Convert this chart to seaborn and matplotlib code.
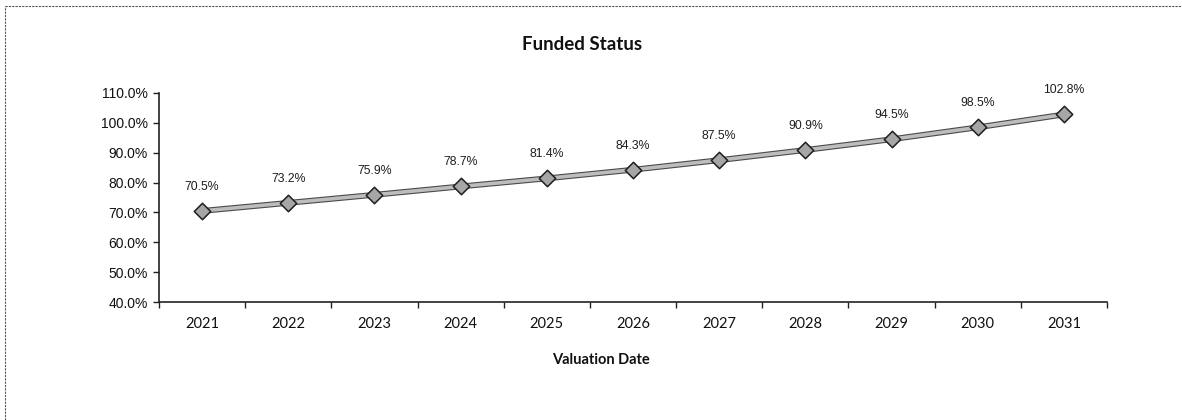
import matplotlib
matplotlib.use("Agg")
import matplotlib.pyplot as plt
import matplotlib.patheffects as pe
from matplotlib.ticker import FixedLocator, FuncFormatter
import seaborn as sns
import pandas as pd

years = ["2021", "2022", "2023", "2024", "2025", "2026", "2027", "2028", "2029", "2030", "2031"]
funded = [70.5, 73.2, 75.9, 78.7, 81.4, 84.3, 87.5, 90.9, 94.5, 98.5, 102.8]
y_ticks = [40, 50, 60, 70, 80, 90, 100, 110]

sns.set_theme(style="white")
plt.rcParams['font.family'] = ['Liberation Sans', 'DejaVu Sans']

df = pd.DataFrame({"year": years, "funded": funded})

fig = plt.figure(figsize=(11.82, 4.2), dpi=100)
ax = fig.add_axes([159/1182, 1-302/420, (1107-159)/1182, (302-93)/420])

sns.lineplot(data=df, x="year", y="funded", ax=ax, color="#bdbdbd", linewidth=2.6,
             path_effects=[pe.Stroke(linewidth=4.2, foreground="#4a4a4a"), pe.Normal()])
sns.scatterplot(data=df, x="year", y="funded", ax=ax, marker="D", s=70,
                color="#a6a6a6", edgecolor="#1e1e1e", linewidth=1.1, zorder=3)

for i, v in enumerate(funded):
    ax.annotate(f"{v:.1f}%", (i, v), xytext=(0, 13), textcoords="offset points",
                ha="center", va="bottom", fontsize=8.8, color="#1e1e1e",
                family=['Liberation Sans', 'DejaVu Sans'])

ax.set_xlim(-0.5, len(years) - 0.5)
ax.set_ylim(40, 110)
ax.yaxis.set_major_locator(FixedLocator(y_ticks))
ax.yaxis.set_major_formatter(FuncFormatter(lambda v, p: f"{v:.1f}%"))
ax.set_xticks(range(len(years)))
ax.set_xticklabels(years)
ax.set_xticks([i - 0.5 for i in range(len(years) + 1)], minor=True)
ax.tick_params(axis="x", which="major", length=0, pad=11, labelsize=10.5, labelcolor="#111111")
ax.tick_params(axis="x", which="minor", length=4, width=1, color="#222222", direction="out", bottom=True)
ax.tick_params(axis="y", which="major", length=4, width=1, color="#222222", direction="out",
               left=True, labelsize=10, labelcolor="#111111", pad=4)
for lbl in ax.get_xticklabels():
    lbl.set_family(['Lato', 'DejaVu Sans'])
ax.set_xlabel("")
ax.set_ylabel("")
for s in ["top", "right"]:
    ax.spines[s].set_visible(False)
for s in ["left", "bottom"]:
    ax.spines[s].set_color("#222222")
    ax.spines[s].set_linewidth(1.2)
ax.grid(False)

fig.text(582/1182, 1-45/420, "Funded Status", ha="center", va="center",
         fontsize=13.5, fontweight="bold", color="#111111", family=['Lato', 'DejaVu Sans'])
fig.text(601/1182, 1-360/420, "Valuation Date", ha="center", va="center",
         fontsize=10.5, fontweight="bold", color="#111111", family=['Lato', 'DejaVu Sans'])

# figure frame (top and left edges)
fig.add_artist(plt.Line2D([5/1182, 1], [1-6/420, 1-6/420], transform=fig.transFigure,
                          color="#555555", linewidth=0.8, linestyle=(0, (2, 1))))
fig.add_artist(plt.Line2D([5/1182, 5/1182], [0, 1-6/420], transform=fig.transFigure,
                          color="#555555", linewidth=0.8, linestyle=(0, (2, 1))))

fig.savefig("out.png", dpi=100)
